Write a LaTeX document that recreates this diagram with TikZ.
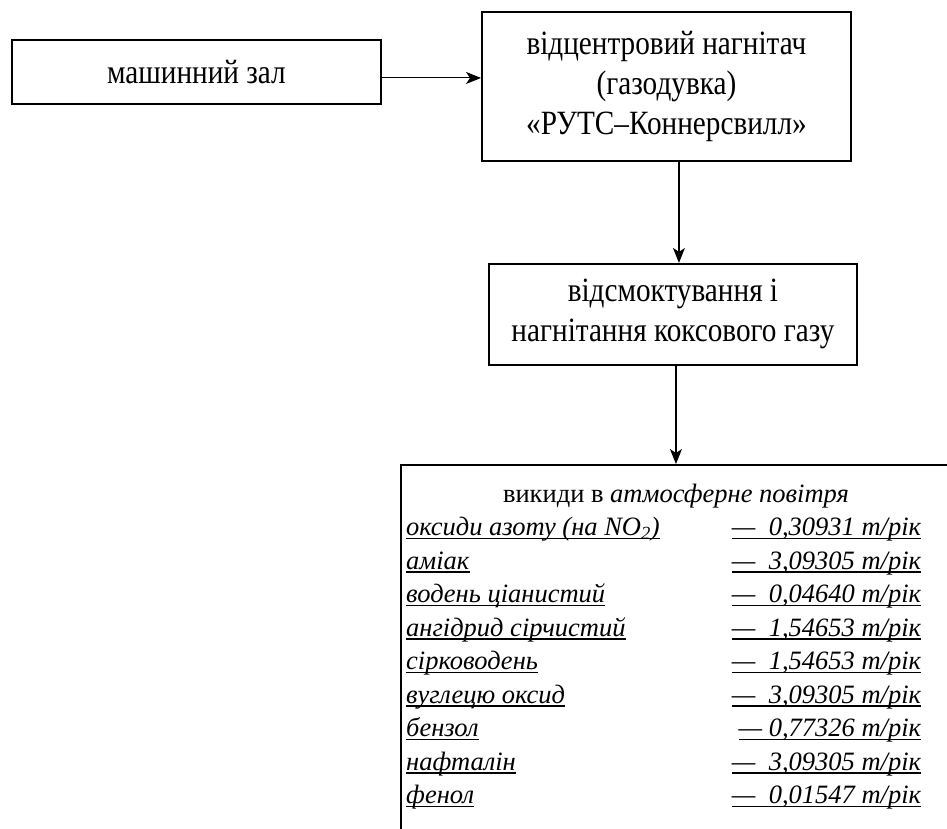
\documentclass[tikz,border=0pt]{standalone}
\usepackage{fontspec}
\setmainfont{Liberation Serif}
\newfontfamily\narrowfont[FakeStretch=0.86]{Liberation Serif}
\usetikzlibrary{arrows.meta,positioning}
\newcommand{\uln}[1]{\setbox0\hbox{#1}\rlap{\rule[-3.5pt]{\wd0}{1.1pt}}\box0}
\newcommand{\emrow}[2]{\makebox[515pt][s]{\uln{\textit{#1}}\hfill\uln{\textit{#2}}}}

\begin{document}
\begin{tikzpicture}[x=1pt,y=-1pt,
  box/.style={rectangle,draw,line width=1.9pt,align=center,inner sep=0pt,font=\narrowfont\fontsize{34}{40}\selectfont},
  txt/.style={inner sep=0pt,font=\fontsize{26.5}{33.5}\selectfont},
  arrow/.style={-{Stealth[length=15pt,width=12pt,inset=4pt]},line width=1.1pt}
]
  \useasboundingbox (0,0) rectangle (947,829);
  \clip (0,0) rectangle (947,829);

  \node[box,minimum width=369pt,minimum height=64pt,anchor=north west] (zal) at (11,39) {машинний зал};
  \node[box,minimum width=369pt,minimum height=149pt,anchor=north west] (fan) at (481,11) {відцентровий нагнітач\\(газодувка)\\«РУТС–Коннерсвилл»};
  \node[box,minimum width=368pt,minimum height=101pt,below=101pt of fan,xshift=6.5pt] (suck) {відсмоктування і\\нагнітання коксового газу};
  \node[box,line width=1.5pt,minimum width=600pt,minimum height=420pt,anchor=north west] (emis) at (400,464) {};

  \node[txt,anchor=base] (title) at (676,502) {викиди в \textit{атмосферне повітря}};
  \node[txt,anchor=north west,align=left] (list) at (406,517) {%
    \emrow{оксиди азоту (на NO\textsubscript{2})}{—\ \ 0,30931 т/рік}\\
    \emrow{аміак}{—\ \ 3,09305 т/рік}\\
    \emrow{водень ціанистий}{—\ \ 0,04640 т/рік}\\
    \emrow{ангідрид сірчистий}{—\ \ 1,54653 т/рік}\\
    \emrow{сірководень}{—\ \ 1,54653 т/рік}\\
    \emrow{вуглецю оксид}{—\ \ 3,09305 т/рік}\\
    \emrow{бензол}{—\ 0,77326 т/рік}\\
    \emrow{нафталін}{—\ \ 3,09305 т/рік}\\
    \emrow{фенол}{—\ \ 0,01547 т/рік}};

  \draw[arrow] ([yshift=-6pt]zal.east) -- ([yshift=-6pt]zal.east -| fan.west);
  \draw[arrow] ([xshift=12.5pt]fan.south) -- ([xshift=12.5pt]fan.south |- suck.north);
  \draw[arrow] ([xshift=3pt]suck.south) -- ([xshift=3pt]suck.south |- emis.north);
\end{tikzpicture}
\end{document}
